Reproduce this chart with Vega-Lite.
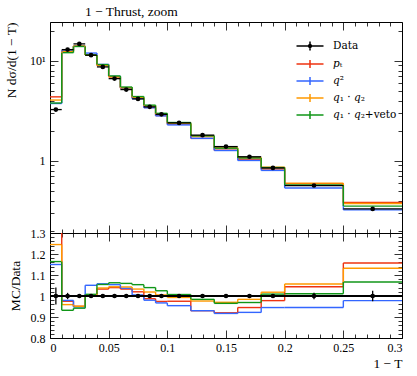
{
  "$schema": "https://vega.github.io/schema/vega-lite/v6.json",
  "background": "white",
  "padding": {"left": 3, "top": 4, "right": 6, "bottom": 1},
  "spacing": 0,
  "bounds": "flush",
  "resolve": {"scale": {"color": "independent", "shape": "independent"}, "legend": {"color": "independent", "shape": "independent"}},
  "datasets": {
    "mc": [
      {"s":"pT","lo":0,"hi":0.01,"v":4.37,"r":1.34},
      {"s":"pT","lo":0.01,"hi":0.02,"v":12.65,"r":0.975},
      {"s":"pT","lo":0.02,"hi":0.03,"v":14.07,"r":0.951},
      {"s":"pT","lo":0.03,"hi":0.04,"v":11.47,"r":1.006},
      {"s":"pT","lo":0.04,"hi":0.05,"v":9.00,"r":1.033},
      {"s":"pT","lo":0.05,"hi":0.06,"v":6.92,"r":1.040},
      {"s":"pT","lo":0.06,"hi":0.07,"v":5.34,"r":1.033},
      {"s":"pT","lo":0.07,"hi":0.08,"v":4.25,"r":1.020},
      {"s":"pT","lo":0.08,"hi":0.09,"v":3.42,"r":0.987},
      {"s":"pT","lo":0.09,"hi":0.1,"v":2.84,"r":0.974},
      {"s":"pT","lo":0.1,"hi":0.12,"v":2.34,"r":0.975},
      {"s":"pT","lo":0.12,"hi":0.14,"v":1.68,"r":0.930},
      {"s":"pT","lo":0.14,"hi":0.16,"v":1.28,"r":0.920},
      {"s":"pT","lo":0.16,"hi":0.18,"v":1.04,"r":0.945},
      {"s":"pT","lo":0.18,"hi":0.2,"v":0.831,"r":0.978},
      {"s":"pT","lo":0.2,"hi":0.25,"v":0.592,"r":1.044},
      {"s":"pT","lo":0.25,"hi":0.3,"v":0.383,"r":1.157},
      {"s":"q2","lo":0,"hi":0.01,"v":3.75,"r":1.15},
      {"s":"q2","lo":0.01,"hi":0.02,"v":12.70,"r":0.979},
      {"s":"q2","lo":0.02,"hi":0.03,"v":14.03,"r":0.948},
      {"s":"q2","lo":0.03,"hi":0.04,"v":11.98,"r":1.051},
      {"s":"q2","lo":0.04,"hi":0.05,"v":9.22,"r":1.058},
      {"s":"q2","lo":0.05,"hi":0.06,"v":7.01,"r":1.054},
      {"s":"q2","lo":0.06,"hi":0.07,"v":5.36,"r":1.037},
      {"s":"q2","lo":0.07,"hi":0.08,"v":4.19,"r":1.005},
      {"s":"q2","lo":0.08,"hi":0.09,"v":3.40,"r":0.980},
      {"s":"q2","lo":0.09,"hi":0.1,"v":2.82,"r":0.967},
      {"s":"q2","lo":0.1,"hi":0.12,"v":2.29,"r":0.954},
      {"s":"q2","lo":0.12,"hi":0.14,"v":1.68,"r":0.930},
      {"s":"q2","lo":0.14,"hi":0.16,"v":1.27,"r":0.917},
      {"s":"q2","lo":0.16,"hi":0.18,"v":1.01,"r":0.922},
      {"s":"q2","lo":0.18,"hi":0.2,"v":0.803,"r":0.945},
      {"s":"q2","lo":0.2,"hi":0.25,"v":0.536,"r":0.945},
      {"s":"q2","lo":0.25,"hi":0.3,"v":0.324,"r":0.978},
      {"s":"q1q2","lo":0,"hi":0.01,"v":4.06,"r":1.245},
      {"s":"q1q2","lo":0.01,"hi":0.02,"v":12.44,"r":0.959},
      {"s":"q1q2","lo":0.02,"hi":0.03,"v":14.07,"r":0.951},
      {"s":"q1q2","lo":0.03,"hi":0.04,"v":11.43,"r":1.003},
      {"s":"q1q2","lo":0.04,"hi":0.05,"v":9.04,"r":1.038},
      {"s":"q1q2","lo":0.05,"hi":0.06,"v":6.94,"r":1.044},
      {"s":"q1q2","lo":0.06,"hi":0.07,"v":5.39,"r":1.043},
      {"s":"q1q2","lo":0.07,"hi":0.08,"v":4.31,"r":1.033},
      {"s":"q1q2","lo":0.08,"hi":0.09,"v":3.54,"r":1.019},
      {"s":"q1q2","lo":0.09,"hi":0.1,"v":2.93,"r":1.005},
      {"s":"q1q2","lo":0.1,"hi":0.12,"v":2.38,"r":0.993},
      {"s":"q1q2","lo":0.12,"hi":0.14,"v":1.77,"r":0.976},
      {"s":"q1q2","lo":0.14,"hi":0.16,"v":1.35,"r":0.970},
      {"s":"q1q2","lo":0.16,"hi":0.18,"v":1.08,"r":0.984},
      {"s":"q1q2","lo":0.18,"hi":0.2,"v":0.865,"r":1.018},
      {"s":"q1q2","lo":0.2,"hi":0.25,"v":0.599,"r":1.057},
      {"s":"q1q2","lo":0.25,"hi":0.3,"v":0.375,"r":1.132},
      {"s":"veto","lo":0,"hi":0.01,"v":3.79,"r":1.164},
      {"s":"veto","lo":0.01,"hi":0.02,"v":12.09,"r":0.932},
      {"s":"veto","lo":0.02,"hi":0.03,"v":13.94,"r":0.942},
      {"s":"veto","lo":0.03,"hi":0.04,"v":11.49,"r":1.008},
      {"s":"veto","lo":0.04,"hi":0.05,"v":9.19,"r":1.055},
      {"s":"veto","lo":0.05,"hi":0.06,"v":7.07,"r":1.063},
      {"s":"veto","lo":0.06,"hi":0.07,"v":5.48,"r":1.060},
      {"s":"veto","lo":0.07,"hi":0.08,"v":4.40,"r":1.054},
      {"s":"veto","lo":0.08,"hi":0.09,"v":3.61,"r":1.040},
      {"s":"veto","lo":0.09,"hi":0.1,"v":2.99,"r":1.025},
      {"s":"veto","lo":0.1,"hi":0.12,"v":2.42,"r":1.007},
      {"s":"veto","lo":0.12,"hi":0.14,"v":1.78,"r":0.984},
      {"s":"veto","lo":0.14,"hi":0.16,"v":1.34,"r":0.965},
      {"s":"veto","lo":0.16,"hi":0.18,"v":1.07,"r":0.969},
      {"s":"veto","lo":0.18,"hi":0.2,"v":0.858,"r":1.009},
      {"s":"veto","lo":0.2,"hi":0.25,"v":0.573,"r":1.011},
      {"s":"veto","lo":0.25,"hi":0.3,"v":0.353,"r":1.067}
    ],
    "dat": [
      {"s":"Data","lo":0,"hi":0.01,"x":0.005,"v":3.26,"vlo":3.13,"vhi":3.39,"r":1,"rlo":0.96,"rhi":1.04},
      {"s":"Data","lo":0.01,"hi":0.02,"x":0.015,"v":12.97,"vlo":12.78,"vhi":13.16,"r":1,"rlo":0.985,"rhi":1.015},
      {"s":"Data","lo":0.02,"hi":0.03,"x":0.025,"v":14.8,"vlo":14.71,"vhi":14.89,"r":1,"rlo":0.994,"rhi":1.006},
      {"s":"Data","lo":0.03,"hi":0.04,"x":0.035,"v":11.4,"vlo":11.33,"vhi":11.47,"r":1,"rlo":0.994,"rhi":1.006},
      {"s":"Data","lo":0.04,"hi":0.05,"x":0.045,"v":8.71,"vlo":8.66,"vhi":8.76,"r":1,"rlo":0.994,"rhi":1.006},
      {"s":"Data","lo":0.05,"hi":0.06,"x":0.055,"v":6.65,"vlo":6.61,"vhi":6.69,"r":1,"rlo":0.994,"rhi":1.006},
      {"s":"Data","lo":0.06,"hi":0.07,"x":0.065,"v":5.17,"vlo":5.14,"vhi":5.20,"r":1,"rlo":0.994,"rhi":1.006},
      {"s":"Data","lo":0.07,"hi":0.08,"x":0.075,"v":4.17,"vlo":4.14,"vhi":4.20,"r":1,"rlo":0.994,"rhi":1.006},
      {"s":"Data","lo":0.08,"hi":0.09,"x":0.085,"v":3.47,"vlo":3.45,"vhi":3.49,"r":1,"rlo":0.994,"rhi":1.006},
      {"s":"Data","lo":0.09,"hi":0.1,"x":0.095,"v":2.92,"vlo":2.90,"vhi":2.94,"r":1,"rlo":0.994,"rhi":1.006},
      {"s":"Data","lo":0.1,"hi":0.12,"x":0.11,"v":2.40,"vlo":2.386,"vhi":2.414,"r":1,"rlo":0.994,"rhi":1.006},
      {"s":"Data","lo":0.12,"hi":0.14,"x":0.13,"v":1.81,"vlo":1.80,"vhi":1.82,"r":1,"rlo":0.994,"rhi":1.006},
      {"s":"Data","lo":0.14,"hi":0.16,"x":0.15,"v":1.39,"vlo":1.382,"vhi":1.398,"r":1,"rlo":0.994,"rhi":1.006},
      {"s":"Data","lo":0.16,"hi":0.18,"x":0.17,"v":1.10,"vlo":1.093,"vhi":1.107,"r":1,"rlo":0.994,"rhi":1.006},
      {"s":"Data","lo":0.18,"hi":0.2,"x":0.19,"v":0.85,"vlo":0.843,"vhi":0.857,"r":1,"rlo":0.992,"rhi":1.008},
      {"s":"Data","lo":0.2,"hi":0.25,"x":0.225,"v":0.567,"vlo":0.558,"vhi":0.576,"r":1,"rlo":0.985,"rhi":1.015},
      {"s":"Data","lo":0.25,"hi":0.3,"x":0.275,"v":0.331,"vlo":0.323,"vhi":0.339,"r":1,"rlo":0.975,"rhi":1.025}
    ]
  },
  "vconcat": [
    {
      "width": 352,
      "height": 211,
      "title": {"text": "1 − Thrust, zoom", "anchor": "start", "frame": "group", "dx": 35, "font": "Liberation Serif", "fontSize": 13.5, "fontWeight": "normal", "offset": 3, "color": "black"},
      "resolve": {"axis": {"x": "independent", "y": "independent"}},
      "layer": [
        {
          "data": {"name": "mc"},
          "mark": {"type": "rule", "clip": true, "strokeWidth": 1.4},
          "encoding": {
            "x": {"field": "lo", "type": "quantitative", "scale": {"domain": [0, 0.3], "nice": false, "zero": false},
                  "axis": {"orient": "bottom", "title": null, "labels": false, "values": [0,0.01,0.02,0.03,0.04,0.05,0.06,0.07,0.08,0.09,0.1,0.11,0.12,0.13,0.14,0.15,0.16,0.17,0.18,0.19,0.2,0.21,0.22,0.23,0.24,0.25,0.26,0.27,0.28,0.29,0.3],
                           "tickSize": {"condition": {"test": "abs(datum.value*20 - round(datum.value*20)) < 1e-6", "value": -8}, "value": -4}}},
            "x2": {"field": "hi"},
            "y": {"field": "v", "type": "quantitative", "scale": {"type": "log", "domain": [0.19, 24.5], "nice": false},
                  "axis": {"orient": "left", "title": "N dσ/d(1 − T)", "titleAnchor": "end", "titlePadding": 11, "labelPadding": 13,
                           "values": [0.2,0.3,0.4,0.5,0.6,0.7,0.8,0.9,1,2,3,4,5,6,7,8,9,10,20],
                           "labelExpr": "datum.value == 1 ? '1' : (datum.value == 10 ? '10¹' : '')",
                           "tickSize": {"condition": {"test": "datum.value == 1 || datum.value == 10", "value": -8}, "value": -4}}},
            "color": {"field": "s", "type": "nominal", "scale": {"domain": ["Data","pT","q2","q1q2","veto"], "range": ["black","#EE3311","#3366FF","#FF9900","#109618"]}}
          }
        },
        {
          "data": {"name": "mc"},
          "transform": [
            {"window": [{"op": "lead", "field": "v", "as": "nv"}], "groupby": ["s"], "sort": [{"field": "lo"}]},
            {"filter": "datum.nv != null"}
          ],
          "mark": {"type": "rule", "clip": true, "strokeWidth": 1.4},
          "encoding": {
            "x": {"field": "hi", "type": "quantitative",
                  "axis": {"orient": "top", "title": null, "labels": false, "values": [0,0.01,0.02,0.03,0.04,0.05,0.06,0.07,0.08,0.09,0.1,0.11,0.12,0.13,0.14,0.15,0.16,0.17,0.18,0.19,0.2,0.21,0.22,0.23,0.24,0.25,0.26,0.27,0.28,0.29,0.3],
                           "tickSize": {"condition": {"test": "abs(datum.value*20 - round(datum.value*20)) < 1e-6", "value": -8}, "value": -4}}},
            "y": {"field": "v", "type": "quantitative",
                  "axis": {"orient": "right", "title": null, "labels": false,
                           "values": [0.2,0.3,0.4,0.5,0.6,0.7,0.8,0.9,1,2,3,4,5,6,7,8,9,10,20],
                           "tickSize": {"condition": {"test": "datum.value == 1 || datum.value == 10", "value": -8}, "value": -4}}},
            "y2": {"field": "nv"},
            "color": {"field": "s", "type": "nominal"}
          }
        },
        {
          "data": {"name": "dat"},
          "mark": {"type": "rule", "clip": true, "strokeWidth": 1.3, "color": "black"},
          "encoding": {
            "x": {"field": "lo", "type": "quantitative", "axis": null},
            "x2": {"field": "hi"},
            "y": {"field": "v", "type": "quantitative", "axis": null}
          }
        },
        {
          "data": {"name": "dat"},
          "mark": {"type": "rule", "clip": true, "strokeWidth": 1.3, "color": "black"},
          "encoding": {
            "x": {"field": "x", "type": "quantitative", "axis": null},
            "y": {"field": "vlo", "type": "quantitative", "axis": null},
            "y2": {"field": "vhi"}
          }
        },
        {
          "data": {"name": "dat"},
          "mark": {"type": "point", "filled": true, "opacity": 1, "size": 22, "color": "black", "clip": true},
          "encoding": {
            "x": {"field": "x", "type": "quantitative", "axis": null},
            "y": {"field": "v", "type": "quantitative", "axis": null}
          }
        },
        {
          "data": {"name": "dat"},
          "transform": [{"filter": "false"}],
          "mark": {"type": "point", "filled": false, "strokeWidth": 1.5, "opacity": 1},
          "encoding": {
            "x": {"field": "x", "type": "quantitative", "axis": null},
            "y": {"field": "v", "type": "quantitative", "axis": null},
            "color": {"field": "s", "type": "nominal",
                      "legend": {"title": null, "orient": "none", "legendX": 254, "legendY": 18, "symbolSize": 100, "symbolStrokeWidth": 1.5,
                                 "labelOffset": 17, "rowPadding": 3, "labelFont": "DejaVu Serif", "labelFontSize": 10.5, "labelColor": "black",
                                 "labelExpr": "datum.label == 'pT' ? '𝑝ₜ' : (datum.label == 'q2' ? '𝑞²' : (datum.label == 'q1q2' ? '𝑞₁ · 𝑞₂' : (datum.label == 'veto' ? '𝑞₁ · 𝑞₂+veto' : 'Data')))"}},
            "shape": {"field": "s", "type": "nominal",
                      "scale": {"domain": ["Data","pT","q2","q1q2","veto"],
                                "range": ["M-2.7,0H2.7M0,-0.9V0.9M0.3,0A0.3,0.3 0 1,0 -0.3,0A0.3,0.3 0 1,0 0.3,0", "M-2.7,0H2.7M0,-0.8V0.8", "M-2.7,0H2.7M0,-0.8V0.8", "M-2.7,0H2.7M0,-0.8V0.8", "M-2.7,0H2.7M0,-0.8V0.8"]},
                      "legend": {"title": null, "orient": "none", "legendX": 254, "legendY": 18, "symbolSize": 100, "symbolStrokeWidth": 1.5,
                                 "labelOffset": 17, "rowPadding": 3, "labelFont": "DejaVu Serif", "labelFontSize": 10.5, "labelColor": "black",
                                 "labelExpr": "datum.label == 'pT' ? '𝑝ₜ' : (datum.label == 'q2' ? '𝑞²' : (datum.label == 'q1q2' ? '𝑞₁ · 𝑞₂' : (datum.label == 'veto' ? '𝑞₁ · 𝑞₂+veto' : 'Data')))"}}
          }
        }
      ]
    },
    {
      "width": 352,
      "height": 105,
      "resolve": {"axis": {"x": "independent", "y": "independent"}},
      "layer": [
        {
          "data": {"name": "mc"},
          "mark": {"type": "rule", "clip": true, "strokeWidth": 1.4},
          "encoding": {
            "x": {"field": "lo", "type": "quantitative", "scale": {"domain": [0, 0.3], "nice": false, "zero": false},
                  "axis": {"orient": "bottom", "title": "1 − T", "titleAnchor": "end", "titlePadding": 3, "format": "~g",
                           "labelExpr": "abs(datum.value*20 - round(datum.value*20)) < 1e-6 ? datum.label : ''",
                           "labelPadding": 12,
                           "values": [0,0.01,0.02,0.03,0.04,0.05,0.06,0.07,0.08,0.09,0.1,0.11,0.12,0.13,0.14,0.15,0.16,0.17,0.18,0.19,0.2,0.21,0.22,0.23,0.24,0.25,0.26,0.27,0.28,0.29,0.3],
                           "tickSize": {"condition": {"test": "abs(datum.value*20 - round(datum.value*20)) < 1e-6", "value": -8}, "value": -4}}},
            "x2": {"field": "hi"},
            "y": {"field": "r", "type": "quantitative", "scale": {"domain": [0.8, 1.3], "nice": false, "zero": false},
                  "axis": {"orient": "left", "title": "MC/Data", "titlePadding": 8, "labelPadding": 13, "format": "~g",
                           "values": [0.8,0.82,0.84,0.86,0.88,0.9,0.92,0.94,0.96,0.98,1,1.02,1.04,1.06,1.08,1.1,1.12,1.14,1.16,1.18,1.2,1.22,1.24,1.26,1.28,1.3],
                           "labelExpr": "abs(datum.value*10 - round(datum.value*10)) < 1e-6 ? datum.label : ''",
                           "tickSize": {"condition": {"test": "abs(datum.value*10 - round(datum.value*10)) < 1e-6", "value": -8}, "value": -4}}},
            "color": {"field": "s", "type": "nominal", "legend": null, "scale": {"domain": ["Data","pT","q2","q1q2","veto"], "range": ["black","#EE3311","#3366FF","#FF9900","#109618"]}}
          }
        },
        {
          "data": {"name": "mc"},
          "transform": [
            {"window": [{"op": "lead", "field": "r", "as": "nr"}], "groupby": ["s"], "sort": [{"field": "lo"}]},
            {"filter": "datum.nr != null"}
          ],
          "mark": {"type": "rule", "clip": true, "strokeWidth": 1.4},
          "encoding": {
            "x": {"field": "hi", "type": "quantitative",
                  "axis": {"orient": "top", "title": null, "labels": false, "values": [0,0.01,0.02,0.03,0.04,0.05,0.06,0.07,0.08,0.09,0.1,0.11,0.12,0.13,0.14,0.15,0.16,0.17,0.18,0.19,0.2,0.21,0.22,0.23,0.24,0.25,0.26,0.27,0.28,0.29,0.3],
                           "tickSize": {"condition": {"test": "abs(datum.value*20 - round(datum.value*20)) < 1e-6", "value": -8}, "value": -4}}},
            "y": {"field": "r", "type": "quantitative",
                  "axis": {"orient": "right", "title": null, "labels": false,
                           "values": [0.8,0.82,0.84,0.86,0.88,0.9,0.92,0.94,0.96,0.98,1,1.02,1.04,1.06,1.08,1.1,1.12,1.14,1.16,1.18,1.2,1.22,1.24,1.26,1.28,1.3],
                           "tickSize": {"condition": {"test": "abs(datum.value*10 - round(datum.value*10)) < 1e-6", "value": -8}, "value": -4}}},
            "y2": {"field": "nr"},
            "color": {"field": "s", "type": "nominal", "legend": null}
          }
        },
        {
          "data": {"name": "dat"},
          "mark": {"type": "rule", "strokeWidth": 1.3, "color": "black"},
          "encoding": {"y": {"datum": 1, "type": "quantitative", "axis": null}}
        },
        {
          "data": {"name": "dat"},
          "mark": {"type": "rule", "clip": true, "strokeWidth": 1.3, "color": "black"},
          "encoding": {
            "x": {"field": "x", "type": "quantitative", "axis": null},
            "y": {"field": "rlo", "type": "quantitative", "axis": null},
            "y2": {"field": "rhi"}
          }
        },
        {
          "data": {"name": "dat"},
          "mark": {"type": "point", "filled": true, "opacity": 1, "size": 22, "color": "black", "clip": true},
          "encoding": {
            "x": {"field": "x", "type": "quantitative", "axis": null},
            "y": {"field": "r", "type": "quantitative", "axis": null}
          }
        }
      ]
    }
  ],
  "config": {
    "view": {"stroke": "black", "strokeWidth": 1},
    "axis": {"domain": false, "grid": false, "tickColor": "black", "tickWidth": 0.8, "labelColor": "black", "titleColor": "black",
             "labelFont": "Liberation Serif", "labelFontSize": 12, "titleFont": "Liberation Serif", "titleFontSize": 13.5, "titleFontWeight": "normal"},
    "legend": {"symbolOpacity": 1}
  }
}
